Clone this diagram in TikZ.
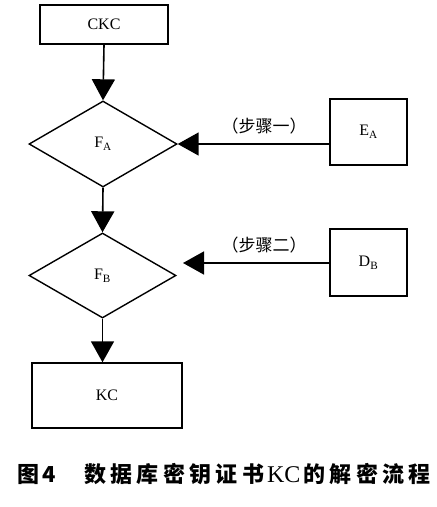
\documentclass[tikz,border=0pt]{standalone}
\usepackage{fontspec}
\setmainfont{Liberation Serif}
\newfontfamily\cjk{Noto Sans CJK SC}
\newcommand\capc[1]{\makebox[26.3pt]{#1}}
\usetikzlibrary{arrows.meta,shapes.geometric}
\begin{document}
\begin{tikzpicture}[x=1pt,y=-1pt,
  box/.style={draw,line width=1.4pt,inner sep=0pt,font=\fontsize{16}{18}\selectfont},
  dia/.style={draw,line width=1.4pt,diamond,inner sep=0pt,font=\fontsize{16}{18}\selectfont},
  arr/.style={line width=1.6pt,-{Triangle[length=21pt,width=23pt]}},
  lab/.style={font=\cjk\fontsize{17}{19}\selectfont}]
\useasboundingbox (0,0) rectangle (437,507);
\node[box,minimum width=128pt,minimum height=39pt] (ckc) at (104,24.5) {CKC};
\node[dia,minimum width=148pt,minimum height=86pt] (fa) at (103,144) {F\textsubscript{A}};
\node[box,minimum width=77pt,minimum height=66pt] (ea) at (368.5,132) {E\textsubscript{A}};
\node[dia,minimum width=147pt,minimum height=85pt] (fb) at (102.5,275.5) {F\textsubscript{B}};
\node[box,minimum width=77pt,minimum height=67pt] (db) at (368.5,262.5) {D\textsubscript{B}};
\node[box,minimum width=150pt,minimum height=65pt] (kc) at (107,395.5) {KC};
\coordinate (eal) at (ea.west |- fa.east);
\coordinate (dbl) at (330,263);
\coordinate (dbe) at (183,263);
\draw[arr] (ckc.south) -- (fa.north);
\draw[arr] (eal) -- (fa.east);
\draw[arr] (fa.south) -- (fb.north);
\draw[arr] (dbl) -- (dbe);
\draw[arr] (fb.south) -- (fb.south |- kc.north);
\node[lab] (l1) at (264,126) {（步骤一）};
\node[lab] (l2) at (264,245) {（步骤二）};
\node[font=\cjk\bfseries\fontsize{22}{24}\selectfont,anchor=west,inner sep=0pt] (cap) at (17,474) {\makebox[25pt][l]{图}\makebox[14pt][l]{4}\hspace{26pt}\capc{数}\capc{据}\capc{库}\capc{密}\capc{钥}\capc{证}\capc{书}\makebox[35pt]{\rmfamily\mdseries\fontsize{24}{26}\selectfont KC}\capc{的}\capc{解}\capc{密}\capc{流}\capc{程}};
\end{tikzpicture}
\end{document}
